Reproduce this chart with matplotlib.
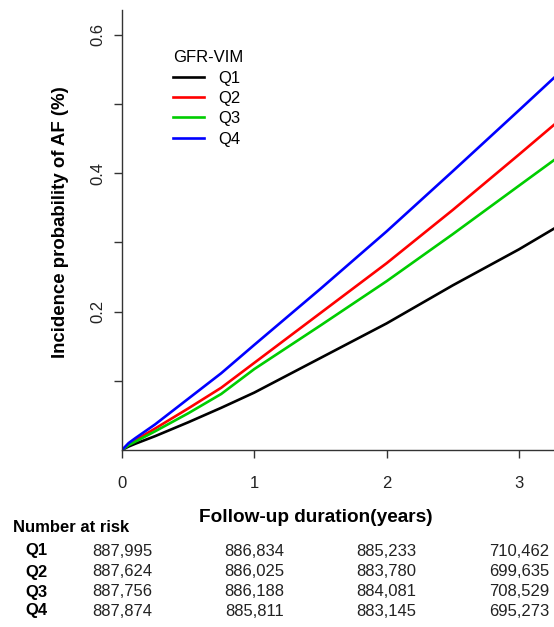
import numpy as np
import matplotlib.pyplot as plt
import matplotlib.transforms as mtransforms

plt.rcParams['font.family'] = ['Liberation Sans', 'DejaVu Sans']

# cumulative incidence (%)
years = [0, 0.05, 0.1, 0.25, 0.5, 0.75, 1, 1.5, 2, 2.5, 3, 3.265]
q1 = [0, 0.005, 0.009, 0.020, 0.040, 0.061, 0.083, 0.133, 0.183, 0.238, 0.290, 0.320]
q2 = [0, 0.008, 0.014, 0.031, 0.060, 0.090, 0.126, 0.198, 0.270, 0.347, 0.427, 0.470]
q3 = [0, 0.007, 0.012, 0.027, 0.053, 0.081, 0.117, 0.180, 0.244, 0.312, 0.382, 0.419]
q4 = [0, 0.010, 0.017, 0.037, 0.074, 0.111, 0.152, 0.233, 0.316, 0.403, 0.491, 0.538]

groups = ['Q1', 'Q2', 'Q3', 'Q4']
colors = ['black', '#FF0000', '#00CD00', '#0000FF']

risk_times = [0, 1, 2, 3]
at_risk = [
    ['887,995', '886,834', '885,233', '710,462'],
    ['887,624', '886,025', '883,780', '699,635'],
    ['887,756', '886,188', '884,081', '708,529'],
    ['887,874', '885,811', '883,145', '695,273'],
]

W, H = 554, 627
fig = plt.figure(figsize=(W / 100, H / 100), dpi=100)
ax = fig.add_axes([122 / W, 1 - 450 / H, 1 - 122 / W, 440 / H])

for g, c, ys in zip(groups, colors, [q1, q2, q3, q4]):
    ax.plot(years, ys, color=c, lw=1.9, label=g, solid_joinstyle='round')

ax.set_xlim(0, 3.265)
ax.set_ylim(0, 0.636)
for s in ['top', 'right']:
    ax.spines[s].set_visible(False)
for s in ['left', 'bottom']:
    ax.spines[s].set_color('#333333')
    ax.spines[s].set_linewidth(1.0)

ax.set_xticks([0, 1, 2, 3])
ax.set_xticklabels(['0', '1', '2', '3'], fontsize=12, color='#222222')
ax.set_yticks([0.1, 0.2, 0.3, 0.4, 0.5, 0.6])
ax.set_yticklabels(['', '0.2', '', '0.4', '', '0.6'], fontsize=12, color='#222222',
                   rotation=90, va='center')
ax.tick_params(length=6, width=1.0, color='#333333')
ax.tick_params(axis='x', pad=13)
ax.tick_params(axis='y', pad=6)

ax.set_xlabel('Follow-up duration(years)', fontsize=13.7, fontweight='bold')
ax.xaxis.set_label_coords(0.449, -0.134)
ax.set_ylabel('Incidence probability of AF (%)', fontsize=13.4, fontweight='bold')
ax.yaxis.set_label_coords(-0.123, 0.518)

leg = ax.legend(title='GFR-VIM', loc='upper left', bbox_to_anchor=(0.092, 0.935),
                frameon=False, fontsize=12, title_fontsize=12,
                handlelength=1.85, handletextpad=0.85, labelspacing=0.32,
                borderpad=0.2, alignment='left')

# number at risk table
fig.text(13 / W, 1 - 527 / H, 'Number at risk', fontsize=12, fontweight='bold',
         ha='left', va='center')
trans = mtransforms.blended_transform_factory(ax.transData, fig.transFigure)
row_y = [551, 572, 592, 611]
for g, row, yp in zip(groups, at_risk, row_y):
    fig.text(25 / W, 1 - yp / H, g, fontsize=12, fontweight='bold', ha='left', va='center')
    for t, v in zip(risk_times, row):
        ax.text(t, 1 - yp / H, v, transform=trans, fontsize=12, ha='center', va='center',
                color='#222222', clip_on=False)

fig.savefig('out.png', dpi=100)
